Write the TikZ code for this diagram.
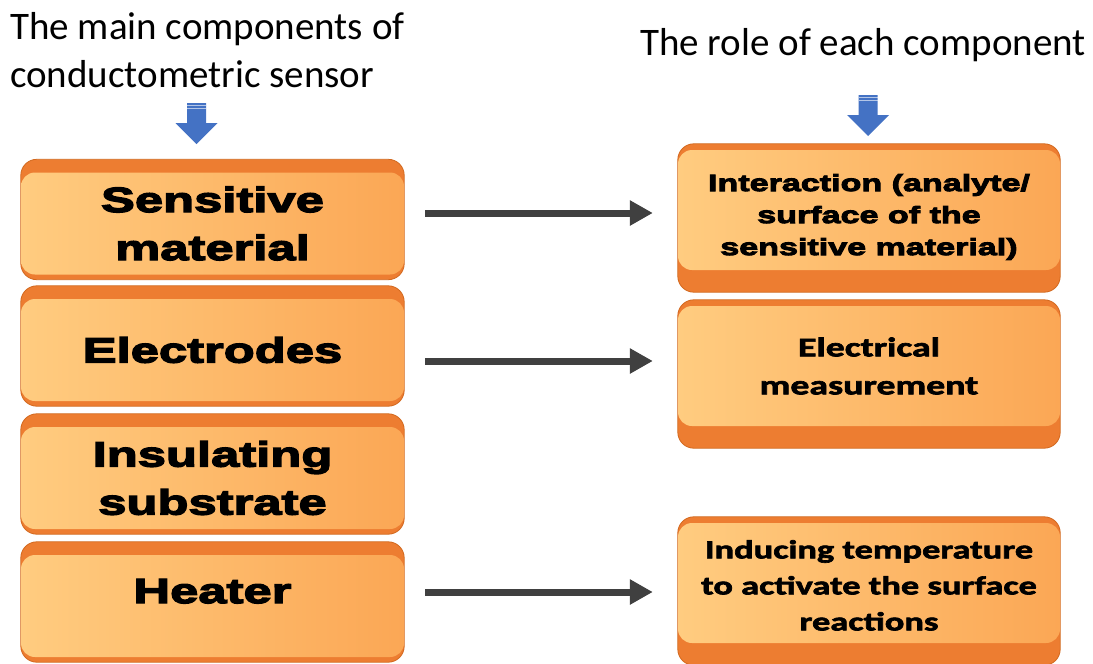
\documentclass[tikz,border=0pt]{standalone}
\usepackage{fontspec}
\setmainfont{Carlito}
\newfontfamily\blackfont{Liberation Sans}[FakeStretch=1.45,BoldFeatures={FakeBold=4}]
\newfontfamily\calibold{Carlito}[FakeStretch=1.4,BoldFeatures={FakeBold=2.5}]
\usetikzlibrary{arrows.meta,backgrounds}

\definecolor{band}{HTML}{ED7D31}
\definecolor{bandline}{HTML}{D2691F}
\definecolor{faceleft}{HTML}{FFCC80}
\definecolor{faceright}{HTML}{FBA755}
\definecolor{linkgray}{HTML}{404040}
\definecolor{pointerblue}{HTML}{4472C4}

\tikzstyle{part} = [rectangle, rounded corners=14pt, left color=faceleft, right color=faceright, align=center, text=black, inner sep=0pt]
\tikzstyle{component} = [part, minimum width=383pt, minimum height=102pt, font=\blackfont\bfseries\fontsize{35}{48}\selectfont]
\tikzstyle{role} = [part, minimum width=382pt, minimum height=120pt]
\tikzstyle{bandbox} = [rounded corners=16pt, fill=band, draw=bandline, line width=0.8pt]
\tikzstyle{link} = [line width=7pt, draw=linkgray, -{Triangle[length=23pt,width=24pt]}, shorten <=21pt, shorten >=25pt]

\tikzset{pointer/.pic={
  \fill[pointerblue] (-9.5,0) -- (9.5,0) -- (9.5,20) -- (21,20) -- (0,41) -- (-21,20) -- (-9.5,20) -- cycle;
  \draw[white, line width=0.8pt, opacity=0.6] (-9.5,2.5) -- (9.5,2.5) (-9.5,5) -- (9.5,5);
}}

\begin{document}
\begin{tikzpicture}[x=1pt, y=-1pt]
  \useasboundingbox (0,0) rectangle (1093,664);

  % headings
  \node (lefttitle) [anchor=north west, align=left, font=\fontsize{39}{48}\selectfont, inner sep=0pt] at (10,12.5) {The main components of\\conductometric sensor};
  \node (righttitle) [anchor=base west, font=\fontsize{39}{48}\selectfont, inner sep=0pt] at (640,55) {The role of each component};
  \pic at (196.5,103) {pointer};
  \pic at (868,95) {pointer};

  % sensor parts
  \node (sens) [component] at (212.5,223.5) {Sensitive\\material};
  \node (elec) [component] at (212.5,350) {Electrodes};
  \node (insul) [component] at (212.5,478) {Insulating\\substrate};
  \node (heat) [component, text depth=30pt] at (212.5,606) {Heater};

  % what each part does
  \node (inter) [role, text height=95pt, font=\blackfont\bfseries\fontsize{23.5}{32}\selectfont] at (869,210) {Interaction (analyte/\\surface of the\\sensitive material)};
  \node (meas) [role, font=\calibold\bfseries\fontsize{27}{38}\selectfont] at (869,366) {Electrical\\measurement};
  \node (heatrole) [role, text height=95pt, font=\calibold\bfseries\fontsize{26}{36}\selectfont] at (869,583) {Inducing temperature\\to activate the surface\\reactions};

  % thick rims behind the faces
  \begin{scope}[on background layer]
    \foreach \n in {sens,elec,insul,heat}
      \draw[bandbox] ([yshift=13pt]\n.north west) rectangle ([yshift=-5pt]\n.south east);
    \foreach \n in {inter,meas,heatrole}
      \draw[bandbox] ([yshift=6pt]\n.north west) rectangle ([yshift=-22pt]\n.south east);
  \end{scope}

  \draw[link] (sens.east |- 0,213) -- (inter.west |- 0,213);
  \draw[link] (elec.east |- 0,361) -- (meas.west |- 0,361);
  \draw[link] (heat.east |- 0,592) -- (heatrole.west |- 0,592);
\end{tikzpicture}
\end{document}
